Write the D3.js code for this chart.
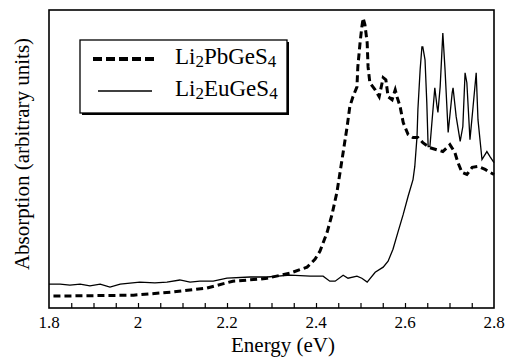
<!DOCTYPE html>
<html>
<head>
<meta charset="utf-8">
<script src="https://cdn.jsdelivr.net/npm/d3@7"></script>
<style>
  body { margin: 0; background: #fff; }
  svg text { font-family: "Liberation Serif", "DejaVu Serif", "Times New Roman", serif; }
</style>
</head>
<body>
<div id="chart"></div>
<script>
// data: photon energy (eV) and absorption (arbitrary units, 0-100)
const pbEnergy = [1.81, 1.99, 2.08, 2.155, 2.213, 2.274, 2.29, 2.342, 2.38, 2.398, 2.409, 2.425,
  2.436, 2.447, 2.454, 2.461, 2.47, 2.476, 2.483, 2.492, 2.494, 2.499, 2.503, 2.506, 2.51, 2.515,
  2.517, 2.521, 2.533, 2.542, 2.551, 2.557, 2.562, 2.571, 2.578, 2.582, 2.589, 2.596, 2.607,
  2.618, 2.629, 2.64, 2.656, 2.685, 2.701, 2.712, 2.719, 2.728, 2.739, 2.751, 2.764, 2.78, 2.791, 2.8];
const pbAbs = [4.0, 4.3, 5.4, 6.7, 9.0, 9.7, 10.0, 11.7, 13.7, 16.4, 19.1, 25.4,
  31.4, 38.8, 45.5, 52.2, 60.9, 67.6, 70.9, 74.2, 80.9, 89.0, 94.3, 97.3, 95.0, 89.0,
  80.9, 75.6, 73.2, 70.9, 77.3, 76.6, 70.9, 69.9, 73.2, 70.9, 67.6, 62.2, 58.2,
  57.2, 57.2, 55.5, 53.8, 52.5, 54.8, 52.2, 48.8, 45.5, 44.8, 47.2, 47.5, 46.5, 45.5, 44.8];

const euEnergy = [1.8, 1.825, 1.847, 1.87, 1.892, 1.915, 1.937, 1.96, 2.004, 2.038, 2.065, 2.094,
  2.117, 2.139, 2.169, 2.2, 2.252, 2.29, 2.342, 2.387, 2.416, 2.431, 2.443, 2.461, 2.472, 2.492,
  2.503, 2.515, 2.533, 2.551, 2.562, 2.573, 2.584, 2.596, 2.607, 2.618, 2.622, 2.627, 2.629,
  2.634, 2.638, 2.64, 2.645, 2.649, 2.652, 2.656, 2.661, 2.667, 2.672, 2.674, 2.679, 2.685,
  2.69, 2.697, 2.706, 2.708, 2.715, 2.724, 2.73, 2.735, 2.739, 2.746, 2.753, 2.76, 2.764,
  2.773, 2.784, 2.791, 2.8];
const euAbs = [8.0, 8.0, 7.7, 8.0, 7.4, 8.0, 7.0, 8.0, 8.7, 8.4, 8.7, 9.4,
  8.7, 9.0, 9.0, 10.0, 10.4, 10.4, 11.0, 10.7, 10.7, 9.0, 9.0, 11.0, 10.0, 10.7,
  10.0, 8.7, 12.0, 13.7, 15.7, 19.7, 25.4, 31.4, 37.5, 43.1, 47.5, 57.5, 66.6,
  79.9, 87.6, 87.6, 83.3, 68.9, 54.2, 54.2, 63.2, 73.9, 67.6, 65.6, 74.2, 92.3,
  79.9, 58.9, 72.2, 73.9, 64.2, 55.9, 60.9, 78.9, 75.6, 56.5, 67.6, 78.9, 63.2,
  49.8, 52.5, 50.8, 48.8];

const xTicks = [1.8, 2, 2.2, 2.4, 2.6, 2.8];
const xMinorTicks = d3.range(1.85, 2.8, 0.05);

// canvas
const width = 505;
const height = 360;
const mLeft = 49, mRight = 494, mTop = 10, mBottom = 308;

const svg = d3.select("#chart").append("svg")
  .attr("width", width)
  .attr("height", height);

const xScale = d3.scaleLinear().domain([1.8, 2.8]).range([mLeft, mRight]);
const yScale = d3.scaleLinear().domain([0, 100]).range([mBottom, mTop]);

// axis with inward ticks
const xAxis = d3.axisBottom(xScale)
  .tickValues(xMinorTicks)
  .tickSize(-5)
  .tickFormat("");

svg.append("g")
  .attr("transform", "translate(0," + mBottom + ")")
  .call(xAxis)
  .call(g => g.select(".domain").remove())
  .selectAll("line").attr("stroke", "#000").attr("stroke-width", 1.2);

svg.append("g")
  .selectAll("text")
  .data(xTicks)
  .enter()
  .append("text")
  .attr("x", d => xScale(d))
  .attr("y", 328)
  .attr("text-anchor", "middle")
  .style("font-size", "17px")
  .text(d => d);

// frame
svg.append("rect")
  .attr("x", mLeft).attr("y", mTop)
  .attr("width", mRight - mLeft).attr("height", mBottom - mTop)
  .attr("fill", "none")
  .attr("stroke", "#000")
  .attr("stroke-width", 1.6);

const line = d3.line()
  .x(d => xScale(d[0]))
  .y(d => yScale(d[1]));

svg.append("path")
  .datum(d3.zip(euEnergy, euAbs))
  .attr("d", line)
  .attr("fill", "none")
  .attr("stroke", "#000")
  .attr("stroke-width", 1.3);

svg.append("path")
  .datum(d3.zip(pbEnergy, pbAbs))
  .attr("d", line)
  .attr("fill", "none")
  .attr("stroke", "#000")
  .attr("stroke-width", 3)
  .attr("stroke-dasharray", "7,4");

// axis labels
svg.append("text")
  .attr("x", 283)
  .attr("y", 352)
  .attr("text-anchor", "middle")
  .style("font-size", "21px")
  .text("Energy (eV)");

svg.append("text")
  .attr("transform", "translate(29,154) rotate(-90)")
  .attr("text-anchor", "middle")
  .style("font-size", "21px")
  .text("Absorption (arbitrary units)");

// legend
const legend = svg.append("g");
legend.append("rect")
  .attr("x", 82).attr("y", 42).attr("width", 207).attr("height", 73)
  .attr("fill", "#000");
legend.append("rect")
  .attr("x", 80).attr("y", 40).attr("width", 207).attr("height", 73)
  .attr("fill", "#fff").attr("stroke", "#000").attr("stroke-width", 1.3);

const legendItems = [
  { mid: "PbGeS", dash: "9,4", w: 4, y: 59, x1: 93, x2: 157 },
  { mid: "EuGeS", dash: null, w: 1.3, y: 91, x1: 98, x2: 152 },
];

legendItems.forEach(d => {
  legend.append("line")
    .attr("x1", d.x1).attr("x2", d.x2).attr("y1", d.y).attr("y2", d.y)
    .attr("stroke", "#000").attr("stroke-width", d.w)
    .attr("stroke-dasharray", d.dash);
  const t = legend.append("text")
    .attr("x", 175).attr("y", d.y + 5)
    .style("font-size", "23px");
  t.append("tspan").text("Li");
  t.append("tspan").attr("dy", 3).style("font-size", "17px").text("2");
  t.append("tspan").attr("dy", -3).text(d.mid);
  t.append("tspan").attr("dy", 3).style("font-size", "17px").text("4");
});
</script>
</body>
</html>
